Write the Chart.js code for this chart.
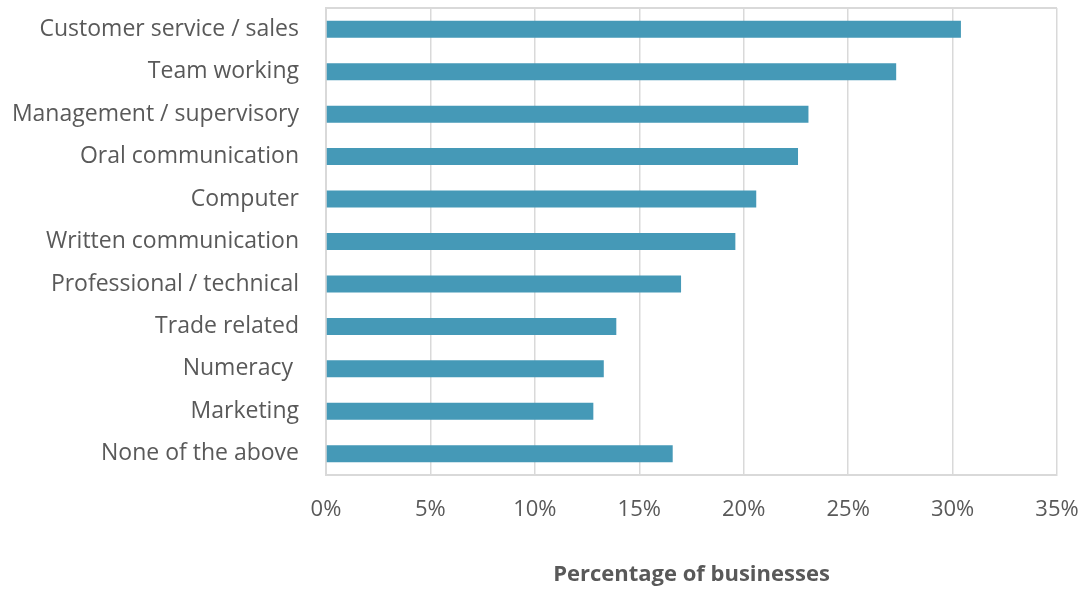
<!DOCTYPE html>
<html>
<head>
<meta charset="utf-8">
<script src="https://cdn.jsdelivr.net/npm/chart.js@4"></script>
<style>
  html, body { margin: 0; padding: 0; background: #fff; }
  #wrap { width: 1082px; height: 590px; }
</style>
</head>
<body>
<div id="wrap"><canvas id="skills"></canvas></div>
<script>
// Skills businesses look for – share of businesses (%)
const skillLabels = [
  'Customer service / sales',
  'Team working',
  'Management / supervisory',
  'Oral communication',
  'Computer',
  'Written communication',
  'Professional / technical',
  'Trade related',
  'Numeracy ',
  'Marketing',
  'None of the above'
];
const skillShares = [30.4, 27.3, 23.1, 22.6, 20.6, 19.6, 17.0, 13.9, 13.3, 12.8, 16.6];
const xTicks = [0, 5, 10, 15, 20, 25, 30, 35];

const FONT = "'Open Sans', 'Liberation Sans', sans-serif";
const GRID = '#d9d9d9';
const TEXT = '#595959';

// closes the plot box on the top side
const plotFrame = {
  id: 'plotFrame',
  afterDraw(chart) {
    const { ctx, chartArea: a } = chart;
    ctx.save();
    ctx.strokeStyle = GRID;
    ctx.lineWidth = 2;
    ctx.beginPath();
    ctx.moveTo(a.left, a.top);
    ctx.lineTo(a.right, a.top);
    ctx.stroke();
    ctx.restore();
  }
};

new Chart(document.getElementById('skills'), {
  type: 'bar',
  data: {
    labels: skillLabels,
    datasets: [{
      data: skillShares,
      backgroundColor: '#4599b7',
      barPercentage: 0.4,
      categoryPercentage: 1
    }]
  },
  plugins: [plotFrame],
  options: {
    indexAxis: 'y',
    responsive: true,
    maintainAspectRatio: false,
    animation: false,
    layout: { padding: { top: 8, right: 25, bottom: 2, left: 0 } },
    plugins: { legend: { display: false }, tooltip: { enabled: false } },
    scales: {
      x: {
        min: 0, max: 35,
        afterBuildTicks(axis) { axis.ticks = xTicks.map(v => ({ value: v })); },
        afterFit(axis) {
          axis.height = 113;
          axis.paddingLeft = 0;
          axis.paddingRight = 0;
        },
        grid: { color: GRID, lineWidth: 1.5, drawTicks: false },
        border: { color: GRID, width: 2 },
        ticks: {
          padding: 22,
          color: TEXT,
          font: { family: FONT, size: 22 },
          callback: v => v + '%'
        },
        title: {
          display: true,
          text: 'Percentage of businesses',
          color: TEXT,
          font: { family: FONT, size: 22, weight: 'bold' },
          padding: { top: 20, bottom: 0 }
        }
      },
      y: {
        afterFit(axis) {
          axis.width = 326;
          axis.paddingTop = 0;
          axis.paddingBottom = 0;
        },
        grid: { display: false },
        border: { color: GRID, width: 2 },
        ticks: {
          padding: 19,
          color: TEXT,
          font: { family: FONT, size: 23 }
        }
      }
    }
  }
});
</script>
</body>
</html>
